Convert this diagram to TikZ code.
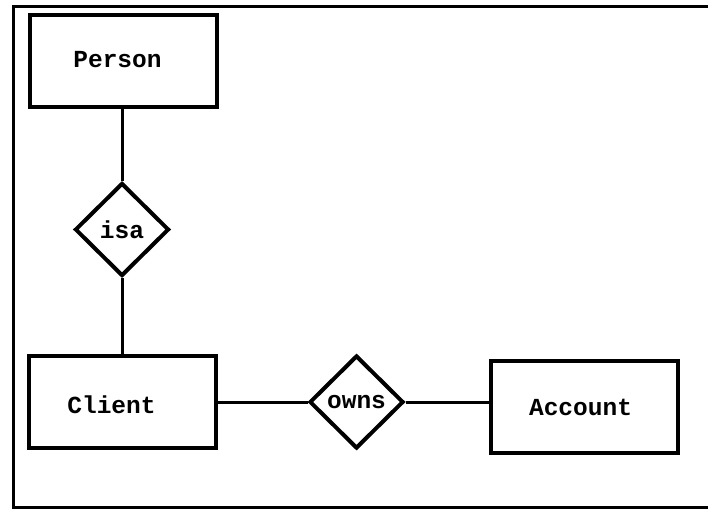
\documentclass[tikz,border=0pt]{standalone}
\usepackage{fontspec}
\setmonofont{Liberation Mono}
\usetikzlibrary{shapes.geometric}
\begin{document}
\begin{tikzpicture}[x=1pt,y=-1pt,
  entity/.style={draw=black,line width=4pt,rectangle,inner sep=0pt,
    minimum width=187pt,minimum height=92pt},
  relation/.style={draw=black,line width=4pt,diamond,inner sep=0pt,
    minimum width=94pt,minimum height=93pt},
  er/.style={font=\fontsize{24.5}{29}\selectfont\ttfamily\bfseries},
  link/.style={line width=3pt}]
\useasboundingbox (0,0) rectangle (708,510);
% outer frame (open on the right, running off the page)
\draw[line width=3pt] (710,7) -- (13,7) -- (13,507) -- (710,507);

% entities
\node[entity,label={[er,xshift=-6pt,yshift=2pt]center:Person}] (person) at (123.5,61.5) {};
\node[entity,label={[er,xshift=-11pt,yshift=-3pt]center:Client}] (client) at (122.5,401.5) {};
\node[entity,label={[er,xshift=-4pt]center:Account}] (account) at (584.5,407) {};

% relationships
\node[relation,er] (isa) at (122,229.5) {isa};
\node[relation,er] (owns) at (356.5,402) {owns};

% connectors
\draw[link] (person.south -| isa.north) -- (isa.north);
\draw[link] (isa.south) -- (isa.south |- client.north);
\draw[link] (client.east |- owns.west) -- (owns.west);
\draw[link] (owns.east) -- (owns.east -| account.west);
\end{tikzpicture}
\end{document}
